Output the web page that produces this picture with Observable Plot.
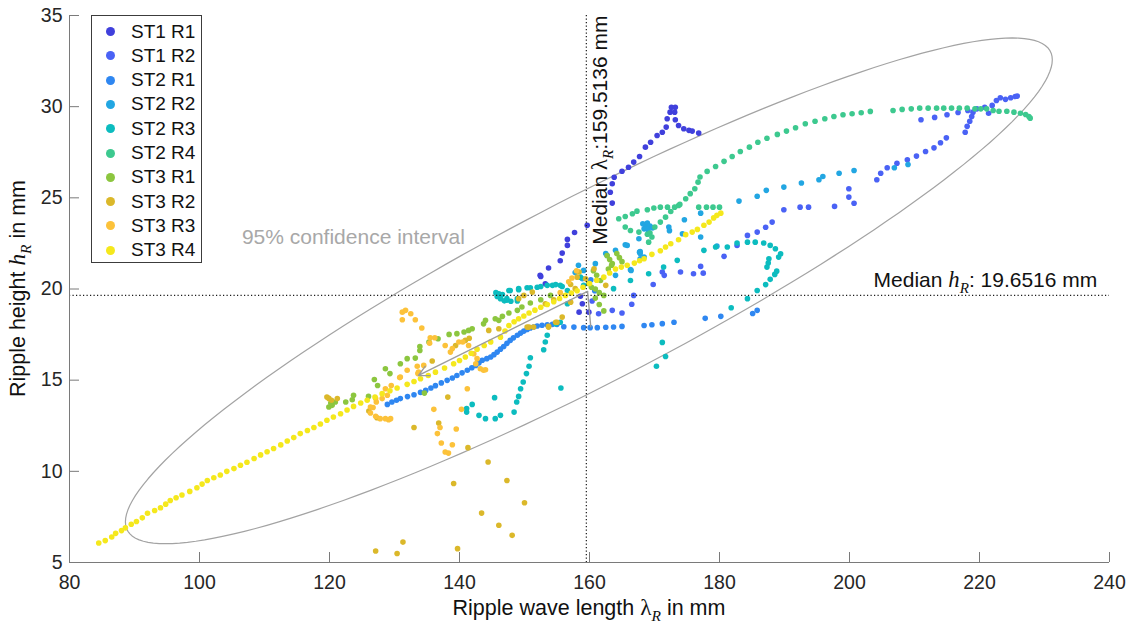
<!DOCTYPE html>
<html>
<head>
<meta charset="utf-8">
<title>Ripple height vs. ripple wave length</title>
<script src="https://cdn.jsdelivr.net/npm/d3@7"></script>
<script src="https://cdn.jsdelivr.net/npm/@observablehq/plot@0.6"></script>
<style>
  html, body { margin: 0; padding: 0; background: #fff; }
  #figure { position: relative; width: 1133px; height: 623px; font-family: "Liberation Sans", Arial, Helvetica, sans-serif; }
  #legend { position: absolute; left: 91px; top: 15px; width: 111px; height: 248px; box-sizing: border-box; border: 1px solid #3c3c3c; background: #fff; }
  #legend .item { position: absolute; left: 0; height: 24px; display: flex; align-items: center; font-size: 19px; color: #111; white-space: nowrap; }
  #legend .swatch { width: 9px; height: 9px; border-radius: 50%; margin-left: 14px; margin-right: 16px; }
</style>
</head>
<body>
<div id="figure"></div>
<script>
// ---- series ----
const seriesNames = ["ST1 R1", "ST1 R2", "ST2 R1", "ST2 R2", "ST2 R3", "ST2 R4", "ST3 R1", "ST3 R2", "ST3 R3", "ST3 R4"];
const seriesColors = ["#4040dc", "#4a62f5", "#2f87f1", "#22a6e2", "#0cbcbf", "#3dc98f", "#8cc63f", "#dbb82a", "#fcc23a", "#f5e81c"];

// [wave length λR (mm), height hR (mm)]
const st1r1 = [
  [152.4,20.75],[153.2,20.29],[152.5,20.69],[153.7,21.15],[155.5,21.55],[155.8,21.97],[156.6,22.39],[156.6,22.72],
  [157.7,23.1],[159.65,23.49],[158.9,19.19],[158.4,18.73],[159.9,18.73],[158.6,19.6],
  [163.5,24.71],[163.2,25.31],[163.5,25.77],[163.8,26.13],[165.0,26.46],[166.0,26.68],[166.8,26.96],[167.7,27.27],
  [168.6,27.78],[169.4,28.05],[170.4,28.42],[171.2,28.6],[171.8,28.88],[171.95,29.34],[172.4,29.7],[172.6,29.97],
  [173.2,29.97],[173.1,29.7],[173.2,29.28],[173.7,28.97],[174.5,28.79],[175.3,28.7],[175.8,28.66],[176.8,28.55]
];
const st1r2 = [
  [160.4,19.34],[161.4,18.64],[163.5,18.83],[165.0,18.68],[166.5,19.16],[166.8,19.65],[169.8,20.25],[171.2,20.93],
  [171.5,20.75],[174.0,20.93],[176.0,20.84],[177.1,21.24],[177.5,20.87],[180.7,21.79],[182.7,22.39],[184.3,22.94],
  [185.8,23.12],[187.1,23.39],[188.1,23.67],[189.9,24.35],[192.4,24.49],[193.7,24.49],[197.7,24.53],[199.9,25.04],
  [199.9,25.5],[200.7,24.7],[204.2,25.99],[204.8,26.35],[205.8,26.65],[207.3,26.9],[208.9,27.09],[210.3,27.29],
  [211.7,27.54],[213.0,27.74],[214.0,28.02],[214.9,28.29],[217.8,28.6],[218.1,28.92],[218.5,29.2],[218.8,29.46],
  [219.0,29.7],[219.6,29.88],[220.8,29.97],[221.95,30.07],[222.6,30.34],[223.2,30.49],[224.0,30.4],[224.8,30.49],
  [225.5,30.56],[225.8,30.58],[218.2,29.79],[216.7,29.68],[215.0,29.56],[213.1,29.41],[211.0,29.28],[221.4,29.64]
];
const st2r1 = [
  [128.9,13.67],[129.6,13.8],[130.3,13.9],[130.9,13.99],[132.0,14.1],[133.0,14.2],[134.0,14.33],[134.8,14.44],
  [135.6,14.57],[136.3,14.7],[137.2,14.85],[138.1,14.99],[138.9,15.12],[139.6,15.26],[140.4,15.4],[141.2,15.54],
  [141.9,15.68],[142.5,15.81],[143.0,15.95],[143.5,16.09],[144.2,16.18],[144.8,16.27],[145.3,16.4],[145.8,16.54],
  [146.3,16.7],[146.8,16.85],[147.3,17.02],[147.8,17.18],[148.3,17.32],[148.9,17.46],[149.4,17.58],[149.9,17.69],
  [150.4,17.78],[150.9,17.86],[151.4,17.92],[151.95,17.97],[152.7,18.01],[153.5,18.04],[154.3,18.06],[155.0,18.06],
  [156.05,17.93],[157.6,17.91],[159.1,17.88],[160.1,17.88],[161.2,17.88],[162.5,17.9],[163.7,17.92],[165.0,17.95],
  [168.4,18.0],[169.6,18.04],[171.2,18.1],[173.0,18.18],[177.8,18.39],[180.2,18.5],[185.1,18.66],[185.8,18.83],
  [160.8,19.9],[160.2,20.5]
];
const st2r2 = [
  [183.0,24.82],[185.8,25.09],[187.2,25.41],[189.9,25.59],[192.6,25.81],[195.3,25.99],[195.9,26.17],[198.4,26.35],
  [200.7,26.5],[206.9,26.65],[209.0,26.83],[168.6,23.45],[168.2,23.58],[168.9,23.62],[169.3,23.45],[169.7,23.35],
  [168.4,23.3],[169.0,23.25],[172.2,23.4],[172.3,23.2],[174.6,23.8],[174.3,23.03],[177.1,22.85],[177.1,24.16],
  [167.7,22.02],[165.5,22.43],[162.5,21.94],[164.0,20.75],[166.4,21.02],[167.8,21.66],[165.8,22.39],[167.6,22.76],
  [164.0,22.12],[162.7,21.84],[160.9,21.39],[159.1,21.02],[166.3,21.06],[167.8,22.06],[168.4,21.75],[158.9,20.56],
  [157.8,20.9],[158.3,21.3],[167.8,21.94],[179.6,22.35]
];
const st2r3 = [
  [145.8,19.59],[146.05,19.74],[146.3,19.47],[146.6,19.7],[147.3,19.38],[147.6,19.92],[147.8,19.92],[148.9,19.34],
  [149.1,19.96],[149.1,20.02],[150.4,20.07],[150.9,20.07],[151.95,20.1],[152.5,20.14],[153.5,20.2],[154.3,20.2],
  [154.8,20.24],[155.5,20.2],[155.8,20.14],[156.6,19.92],[156.6,19.19],[147.3,19.47],[148.9,19.47],[145.6,19.8],
  [146.9,19.35],[147.9,19.33],
  [155.5,18.18],[154.8,18.09],[153.5,17.46],[153.2,17.09],[152.95,16.67],[150.9,16.23],[150.7,15.76],[150.3,15.36],
  [149.8,14.9],[149.4,14.53],[149.1,14.11],[148.8,13.8],[148.4,13.25],[146.3,13.07],[145.5,12.89],[144.0,12.89],
  [143.0,13.07],[141.1,13.25],[141.1,13.44],[141.95,13.67],[145.4,14.04],[155.6,14.57],
  [182.7,22.52],[184.3,22.57],[185.5,22.57],[186.8,22.52],[187.8,22.39],[188.6,22.21],[189.4,21.93],[189.1,21.75],
  [187.6,21.66],[187.5,21.42],[187.3,21.2],[188.8,20.98],[188.5,20.8],[187.8,20.53],[187.1,20.24],[185.8,19.92],
  [184.3,19.47],[181.2,22.3],[179.4,22.3],[177.6,22.12],[173.5,21.57],[171.4,21.2],[169.1,20.84],[166.3,20.47],
  [163.7,20.02],[181.8,18.97],[171.2,17.07],[171.7,16.3],[170.3,15.76],[158.6,20.65],[159.1,20.2]
];
const st2r4 = [
  [164.5,23.85],[165.5,23.98],[166.6,24.13],[167.3,24.27],[165.5,23.4],[166.3,23.21],[167.6,23.12],[168.9,23.0],
  [169.6,22.85],[169.1,22.57],[168.9,24.35],[169.9,24.44],[170.9,24.49],[172.0,24.49],[173.7,24.58],[176.8,24.49],
  [178.0,24.49],[179.0,24.49],[180.0,24.49],
  [169.3,23.07],[170.05,23.4],[170.9,23.67],[171.7,23.94],[172.5,24.25],[173.1,24.49],[173.9,24.64],[174.8,24.95],
  [175.5,25.23],[176.2,25.5],[176.7,25.86],[177.0,26.14],[178.1,26.45],[179.4,26.72],[180.7,27.0],[181.95,27.27],
  [183.2,27.54],[184.6,27.78],[185.9,28.05],[187.3,28.27],[188.9,28.48],[190.3,28.66],[191.7,28.84],[193.2,29.06],
  [194.7,29.2],[196.2,29.34],[197.6,29.46],[199.0,29.56],[200.4,29.61],[201.8,29.67],[203.2,29.74],[206.7,29.79],
  [208.1,29.85],[209.5,29.88],[210.8,29.92],[212.1,29.92],[213.4,29.92],[214.5,29.92],[215.7,29.92],[216.9,29.92],
  [218.1,29.92],[219.3,29.88],[220.2,29.88],[221.1,29.88],[222.1,29.79],[223.0,29.75],[224.2,29.75],[225.3,29.7],
  [226.3,29.64],[227.1,29.57],[227.6,29.46],[227.8,29.37]
];
const st3r1 = [
  [119.9,13.53],[120.4,13.62],[120.9,13.8],[120.2,13.75],[122.5,13.8],[123.5,13.93],[123.7,14.17],[126.0,14.11],
  [127.4,14.71],[126.9,15.04],[128.6,15.63],[129.3,15.36],[130.9,15.9],[131.95,16.18],[133.2,16.21],[133.9,16.63],
  [133.9,16.85],[135.3,17.09],[136.7,17.27],[138.4,17.51],[139.6,17.55],[140.7,17.64],[141.4,17.73],[141.95,17.82],
  [143.7,18.09],[144.0,18.28],[145.5,18.37],[146.05,18.28],[146.6,18.5],[147.6,18.68],[148.9,18.83],[149.6,19.01],
  [150.9,19.23],[152.5,19.41],[154.0,19.65],[134.6,14.29],
  [162.7,21.84],[163.1,21.62],[163.5,21.4],[164.2,21.94],[164.6,21.72],[165.0,21.5],[160.6,21.0],[161.1,20.75],
  [161.7,20.47],[160.9,20.0],[161.5,19.8],[162.2,19.65],[160.9,19.5],[161.5,19.15],[162.2,18.8],[159.9,20.3],
  [160.3,20.1],[162.9,21.1],[163.4,21.3]
];
const st3r2 = [
  [127.1,5.63],[130.4,5.49],[131.3,6.12],[139.7,5.76],[139.1,9.33],[143.4,7.71],[144.4,10.51],[146.05,7.04],
  [147.3,9.5],[148.1,6.49],[150.0,8.28],[141.3,11.3],[133.0,12.4],[136.8,12.65],[119.6,14.07],[119.9,14.0],
  [120.3,13.9],[121.2,13.99],[126.05,13.31],[138.2,14.07],[140.9,17.18],[141.5,17.3],[144.5,17.73],[146.05,17.82],
  [149.9,19.65],[151.2,19.83],[153.2,19.19],[154.5,19.41],[150.7,17.91],[151.4,17.91],[153.7,17.91],[154.8,18.18],
  [157.1,20.25],[158.4,20.93],[159.4,20.56],[160.7,21.11],[127.3,12.94],[135.8,16.05],[139.4,16.9],[149.1,19.47],
  [158.1,20.65],[162.5,20.2],[157.1,19.28],[155.8,18.46],[155.0,18.18],[153.7,17.95],[150.4,17.91],[157.8,20.02]
];
const st3r3 = [
  [131.2,18.73],[131.7,18.83],[132.5,18.64],[133.2,18.31],[131.2,18.31],[134.2,17.86],[135.5,17.33],[135.4,17.03],
  [136.2,17.33],[131.95,15.54],[130.8,15.14],[129.5,14.71],[128.9,14.17],[128.1,13.99],[127.2,13.8],[126.7,13.5],
  [126.3,13.2],[127.1,13.02],[127.8,12.89],[129.1,12.83],[128.6,12.89],[129.4,12.89],[137.8,16.9],[138.9,16.73],
  [139.9,17.09],[140.5,17.09],[141.4,16.9],[142.2,16.45],[142.7,16.18],[142.5,15.9],[143.2,15.63],[143.7,15.54],
  [144.0,15.57],[138.6,16.54],[141.2,14.53],[140.3,13.4],[137.0,12.4],[136.6,12.07],[137.2,11.55],[137.8,11.06],
  [138.3,11.0],[138.9,11.46],[139.5,12.32],[136.05,13.4],[133.5,15.76],[133.6,15.36],[134.5,15.81],[133.7,15.44],
  [130.9,15.17],[128.6,14.53],[127.1,13.99],[126.3,13.53],[155.5,19.8],[156.8,20.4],[158.0,21.0],[157.3,20.6]
];
const st3r4 = [
  [84.5,6.07],[85.5,6.2],[86.5,6.4],[87.1,6.6],[88.0,6.75],[88.6,6.9],[89.5,7.1],[90.3,7.25],[91.2,7.45],[92.0,7.7],
  [93.1,7.85],[94.0,8.0],[94.8,8.2],[95.5,8.4],[96.4,8.55],[97.3,8.7],[98.5,8.9],[99.6,9.1],[100.4,9.3],[101.2,9.5],
  [102.2,9.65],[103.2,9.8],[104.2,10.0],[105.3,10.15],[106.3,10.33],[107.3,10.5],[108.4,10.7],[109.4,10.9],[110.4,11.07],
  [111.4,11.25],[112.5,11.45],[113.5,11.66],[114.5,11.85],[115.5,12.07],[116.6,12.24],[117.6,12.4],[118.6,12.6],
  [119.6,12.8],[120.6,12.98],[121.7,13.16],[122.7,13.36],[123.7,13.56],[124.8,13.75],[125.8,13.9],[127.0,14.08],
  [128.1,14.26],[129.3,14.42],[130.4,14.57],[131.95,14.77],[133.0,14.93],[134.0,15.08],[135.2,15.26],[136.3,15.44],
  [137.7,15.67],[139.1,15.9],[140.0,16.08],[140.9,16.27],[141.8,16.48],[142.7,16.7],[143.8,16.9],[144.8,17.1],
  [146.3,17.36],[147.0,17.7],[147.6,18.0],[148.4,18.2],[149.1,18.37],[149.9,18.52],[150.7,18.68],[151.6,18.84],
  [152.5,19.0],[153.5,19.15],[154.5,19.3],[155.4,19.48],[156.3,19.65],[157.2,19.78],[158.1,19.9],[159.0,20.1],
  [160.0,20.3],[161.1,20.48],[162.2,20.65],[163.1,20.88],[164.0,21.1],[164.9,21.2],[165.8,21.3],[166.9,21.42],
  [167.7,21.55],[168.4,21.66],[169.6,21.9],[170.9,22.1],[171.7,22.3],[172.5,22.48],[173.7,22.7],[174.8,22.98],
  [175.8,23.12],[176.6,23.27],[177.6,23.5],[178.4,23.67],[179.1,23.9],[179.6,24.04],[180.2,24.16]
];
const seriesValues = [st1r1, st1r2, st2r1, st2r2, st2r3, st2r4, st3r1, st3r2, st3r3, st3r4];

// ---- axes ----
const xTicks = [80, 100, 120, 140, 160, 180, 200, 220, 240];
const yTicks = [5, 10, 15, 20, 25, 30, 35];
const xDomain = [80, 240];
const yDomain = [5, 35];

// ---- statistics ----
const medianLambda = 159.5136;
const medianHeight = 19.6516;
// 95 % confidence ellipse: centre, half extents along x and y, phase lag of y (degrees)
const ellipseCenter = [159.9, 19.9];
const ellipseHalfX = 71.3;
const ellipseHalfY = 13.87;
const ellipsePhase = 24;
// principal direction arrow
const trendArrow = [{x1: 159.7, y1: 19.87, x2: 133.7, y2: 15.26}];
const trendStem = [{x1: 159.7, y1: 19.87, x2: 160.2, y2: 17.9}];

// annotation anchors (data units)
const ciLabelAt = [106.6, 22.45];
const medianLambdaLabelY = 22.4;
const medianHeightLabelX = 238.2;

// ---- build tables ----
const points = seriesValues.flatMap((vals, i) => vals.map(([x, y]) => ({series: seriesNames[i], x, y})));
const ellipse = d3.range(0, 361, 2).map((deg) => {
  const t = deg * Math.PI / 180, p = ellipsePhase * Math.PI / 180;
  return {x: ellipseCenter[0] + ellipseHalfX * Math.cos(t), y: ellipseCenter[1] + ellipseHalfY * Math.cos(t - p)};
});

const W = 1133, H = 623;
const mL = 69, mR = 24, mT = 15, mB = 61;
const axisColor = "#7a7a7a";
const sansFamily = '"Liberation Sans", Arial, Helvetica, sans-serif';
const serifFamily = '"Liberation Serif", "DejaVu Serif", serif';

const chart = Plot.plot({
  width: W, height: H,
  marginLeft: mL, marginRight: mR, marginTop: mT, marginBottom: mB,
  style: {background: "#fff", fontFamily: sansFamily, fontSize: "19.5px", color: "#262626", overflow: "visible"},
  x: {domain: xDomain},
  y: {domain: yDomain},
  color: {domain: seriesNames, range: seriesColors},
  marks: [
    Plot.line(ellipse, {x: "x", y: "y", stroke: "#a3a3a3", strokeWidth: 1.2}),
    Plot.dot(points, {x: "x", y: "y", fill: "series", r: 2.8}),
    Plot.ruleX([medianLambda], {stroke: "#1a1a1a", strokeWidth: 1.2, strokeDasharray: "1.2,2.3"}),
    Plot.ruleY([medianHeight], {stroke: "#1a1a1a", strokeWidth: 1.2, strokeDasharray: "1.2,2.3"}),
    Plot.link(trendStem, {x1: "x1", y1: "y1", x2: "x2", y2: "y2", stroke: "#9c9c9c", strokeWidth: 1.4}),
    Plot.arrow(trendArrow, {x1: "x1", y1: "y1", x2: "x2", y2: "y2", stroke: "#9c9c9c", strokeWidth: 1.4, headLength: 12, headAngle: 55}),
    Plot.ruleX([xDomain[0]], {stroke: axisColor, strokeWidth: 1}),
    Plot.ruleY([yDomain[0]], {stroke: axisColor, strokeWidth: 1}),
    Plot.ruleX(xTicks, {stroke: axisColor, strokeWidth: 1, insetTop: H - mT - mB - 10}),
    Plot.ruleY(yTicks, {stroke: axisColor, strokeWidth: 1, insetRight: W - mL - mR - 10}),
    Plot.axisX(xTicks, {tickSize: 0, tickPadding: 13, label: null, fill: "#262626"}),
    Plot.axisY(yTicks, {tickSize: 0, tickPadding: 7, label: null, fill: "#262626"})
  ]
});

document.getElementById("figure").appendChild(chart);

// ---- rich text (italic symbols and subscripts) ----
const svg = d3.select(chart);
const sx = chart.scale("x"), sy = chart.scale("y");

function richText(parts, attrs, size) {
  const t = svg.append("text").attr("font-size", size).attr("font-family", sansFamily);
  for (const [k, v] of Object.entries(attrs)) t.attr(k, v);
  let shift = 0;
  for (const p of parts) {
    const s = t.append("tspan").text(p.text);
    if (p.math) s.attr("font-family", serifFamily).attr("font-style", p.upright ? "normal" : "italic");
    if (p.sub) s.attr("font-size", size * 0.72);
    else if (p.math) s.attr("font-size", size * 1.08);
    const want = p.sub ? size * 0.28 : 0;
    if (want !== shift) { s.attr("dy", want - shift); shift = want; }
  }
  return t;
}

// x axis title
richText(
  [{text: "Ripple wave length "}, {text: "λ", math: true, upright: true}, {text: "R", math: true, sub: true}, {text: " in mm"}],
  {x: (mL + W - mR) / 2, y: 615, "text-anchor": "middle", fill: "#111"}, 21.5
);
// y axis title
richText(
  [{text: "Ripple height "}, {text: "h", math: true}, {text: "R", math: true, sub: true}, {text: " in mm"}],
  {transform: `translate(25,${(mT + H - mB) / 2}) rotate(-90)`, "text-anchor": "middle", fill: "#111"}, 21.5
);
// median annotations
richText(
  [{text: "Median "}, {text: "h", math: true}, {text: "R", math: true, sub: true}, {text: ": 19.6516 mm"}],
  {x: sx.apply(medianHeightLabelX), y: sy.apply(medianHeight) - 8, "text-anchor": "end", fill: "#111"}, 21
);
richText(
  [{text: "Median "}, {text: "λ", math: true, upright: true}, {text: "R", math: true, sub: true}, {text: ":159.5136 mm"}],
  {transform: `translate(${sx.apply(medianLambda) + 21},${sy.apply(medianLambdaLabelY)}) rotate(-90)`, "text-anchor": "start", fill: "#111"}, 21
);
// confidence ellipse label
svg.append("text")
  .attr("x", sx.apply(ciLabelAt[0])).attr("y", sy.apply(ciLabelAt[1]))
  .attr("text-anchor", "start")
  .attr("font-family", sansFamily).attr("font-size", 21).attr("fill", "#a8a8a8")
  .text("95% confidence interval");

// ---- legend ----
const legend = d3.select("#figure").append("div").attr("id", "legend");
seriesNames.forEach((name, i) => {
  const item = legend.append("div").attr("class", "item").style("top", `${3.5 + i * 24.3}px`);
  item.append("div").attr("class", "swatch").style("background", seriesColors[i]);
  item.append("span").text(name);
});
</script>
</body>
</html>
